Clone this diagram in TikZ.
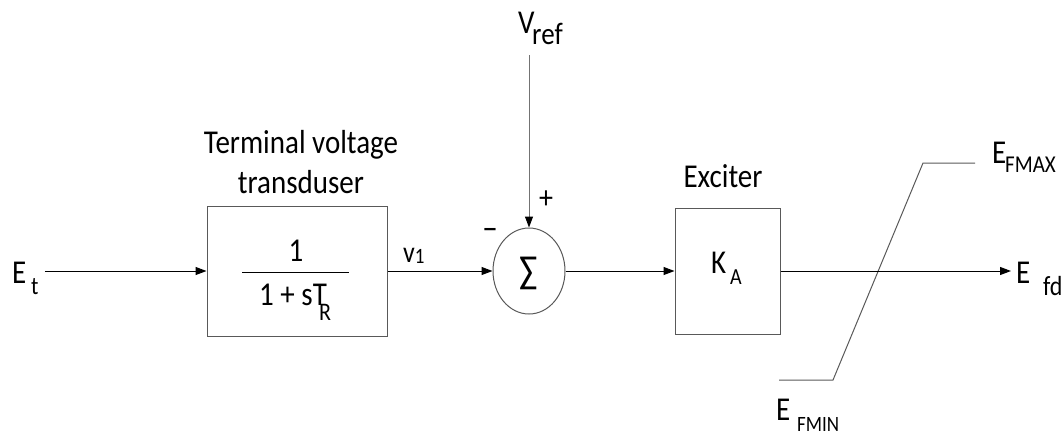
\documentclass[tikz,border=0pt]{standalone}
\usepackage{fontspec}
\usepackage{graphicx}
\setmainfont{Carlito}
\usetikzlibrary{arrows.meta,shapes.geometric}
\newcommand{\fsz}[1]{\fontsize{#1}{#1}\selectfont}
\newcommand{\vs}[1]{\scalebox{1}[1.15]{#1}}
\begin{document}
\begin{tikzpicture}[x=1pt,y=-1pt,
  box/.style={draw=black!65, line width=1pt, inner sep=0pt},
  lbl/.style={font=\fsz{29}, inner sep=0pt},
  sub/.style={inner sep=0pt},
  conn/.style={draw=black, line width=1pt, -{Triangle[length=11pt,width=8pt]}},
  refline/.style={draw=black!55, line width=1pt, -{Triangle[length=11pt,width=8pt,color=black]}},
  lim/.style={draw=black!65, line width=1pt}]
\useasboundingbox (0,0) rectangle (1064,434);
% blocks
\node[box, minimum width=180pt, minimum height=130pt] (tf) at (297,271) {};
\node[box, ellipse, minimum width=72pt, minimum height=86pt] (sum) at (529,271) {};
\node[box, minimum width=105pt, minimum height=126pt] (exc) at (727.5,271) {};
% input label
\node[lbl, anchor=base west] (et) at (12,283) {\vs{E}};
\node[sub, font=\fsz{22}, anchor=base west] (ets) at (31,294) {\vs{t}};
% transducer texts
\node[lbl, anchor=base] (tft1) at (301,153) {\vs{Terminal voltage}};
\node[lbl, anchor=base] (tft2) at (301,193) {\vs{transduser}};
\node[lbl, anchor=base] (num) at (296,261) {\vs{1}};
\coordinate (fl) at (242,272);
\coordinate (fr) at (349,272);
\draw[line width=1pt] (fl) -- (fr);
\node[lbl, anchor=base west] (den) at (259,305) {\vs{1 + sT}};
\node[sub, font=\fsz{22}, anchor=base west] (denr) at (319,320) {\vs{R}};
% v1
\node[sub, anchor=base west, font=\fsz{26}] (v1) at (403,262) {\vs{v\raisebox{-1.5pt}{\fsz{19}1}}};
% summation
\node[font=\fsz{34}, inner sep=0pt] (sig) at (529,273) {\vs{∑}};
\node[font=\fsz{28}, inner sep=0pt] (plus) at (546,200) {\vs{+}};
\node[font=\fsz{30}, inner sep=0pt] (minus) at (490,234) {\vs{−}};
% Vref
\node[lbl, anchor=base west] (vref) at (518,33) {\vs{V}};
\node[sub, font=\fsz{27}, anchor=base west] (vrefs) at (532,44) {\vs{ref}};
\coordinate (vtop) at (529,55);
% exciter
\node[lbl, anchor=base] (exct) at (723,187) {\vs{Exciter}};
\node[lbl, anchor=base west] (ka) at (711,273) {\vs{K}};
\node[sub, font=\fsz{20}, anchor=base west] (kas) at (730,284) {\vs{A}};
% output
\coordinate (eout) at (1011,271);
\node[lbl, anchor=base west] (efd) at (1016,283) {\vs{E}};
\node[sub, font=\fsz{24}, anchor=base west] (efds) at (1043,295) {\vs{fd}};
% limiter
\coordinate (l1) at (779,380);
\coordinate (l2) at (833,380);
\coordinate (l3) at (923,163);
\coordinate (l4) at (975,163);
\draw[lim] (l1) -- (l2) -- (l3) -- (l4);
\node[lbl, anchor=base west] (emax) at (992,163) {\vs{E}};
\node[sub, font=\fsz{21}, anchor=base west] (emaxs) at (1005,172) {\vs{FMAX}};
\node[lbl, anchor=base west] (emin) at (776,420) {\vs{E}};
\node[sub, font=\fsz{19}, anchor=base west] (emins) at (797,431) {\vs{FMIN}};
% connectors
\draw[conn, shorten <=6pt] (ets.east |- tf.west) -- (tf.west);
\draw[conn] (tf.east) -- (sum.west);
\draw[refline] (vtop) -- (sum.north);
\draw[conn] (sum.east) -- (exc.west);
\draw[conn] (exc.east) -- (eout);
\end{tikzpicture}
\end{document}
